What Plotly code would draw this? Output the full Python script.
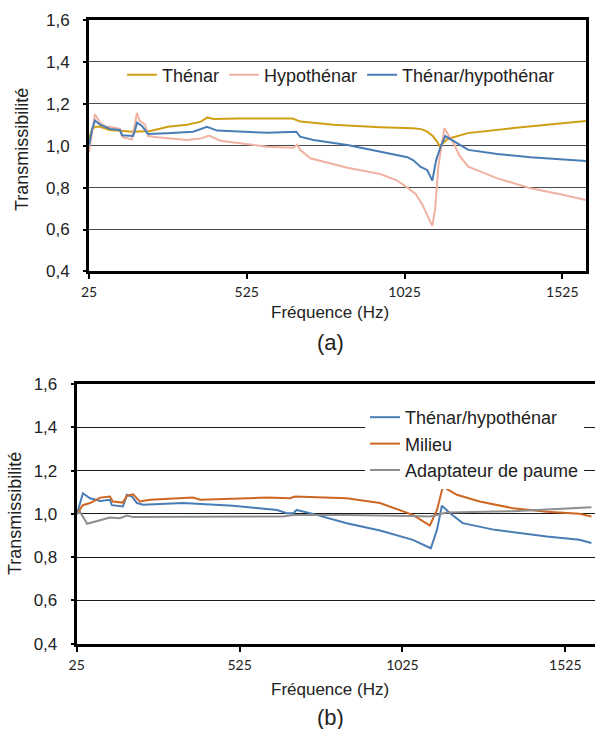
import plotly.graph_objects as go

# ---------------- data (a) ----------------
thenar_f = [25, 35, 45, 60, 90, 130, 165, 220, 275, 335, 380, 400, 420, 500, 600, 670, 695, 800, 948, 1053, 1080, 1097, 1115, 1128, 1136, 1145, 1160, 1180, 1225, 1370, 1470, 1600]
thenar_v = [1.03, 1.08, 1.09, 1.09, 1.075, 1.07, 1.067, 1.07, 1.09, 1.10, 1.115, 1.135, 1.128, 1.13, 1.132, 1.13, 1.115, 1.10, 1.088, 1.083, 1.078, 1.067, 1.045, 1.02, 0.998, 1.01, 1.03, 1.04, 1.06, 1.084, 1.10, 1.118]

hypo_f = [25, 35, 44, 52, 60, 69, 80, 92, 114, 123, 128, 133, 161, 168, 177, 185, 193, 203, 212, 241, 336, 380, 406, 441, 590, 672, 685, 694, 726, 844, 948, 1000, 1034, 1060, 1081, 1100, 1113, 1122, 1132, 1151, 1165, 1180, 1200, 1227, 1319, 1424, 1519, 1600]
hypo_v = [0.97, 1.07, 1.15, 1.13, 1.11, 1.10, 1.09, 1.09, 1.083, 1.08, 1.05, 1.04, 1.03, 1.08, 1.156, 1.12, 1.11, 1.10, 1.046, 1.04, 1.027, 1.035, 1.048, 1.024, 0.995, 0.99, 1.005, 0.98, 0.94, 0.895, 0.865, 0.835, 0.80, 0.77, 0.72, 0.66, 0.617, 0.70, 0.90, 1.083, 1.05, 1.013, 0.95, 0.90, 0.844, 0.797, 0.768, 0.741]

th_hy_f = [25, 35, 44, 60, 92, 123, 130, 165, 172, 177, 193, 212, 272, 355, 399, 431, 590, 672, 682, 694, 736, 844, 948, 1034, 1053, 1075, 1097, 1113, 1125, 1139, 1154, 1193, 1227, 1319, 1424, 1600]
th_hy_v = [1.0, 1.08, 1.12, 1.10, 1.08, 1.075, 1.05, 1.046, 1.08, 1.11, 1.094, 1.056, 1.06, 1.067, 1.09, 1.072, 1.062, 1.067, 1.067, 1.043, 1.027, 1.003, 0.97, 0.945, 0.93, 0.90, 0.883, 0.833, 0.93, 0.995, 1.046, 1.011, 0.98, 0.96, 0.945, 0.927]

# ---------------- data (b) ----------------
b_th_hy_f = [26, 44, 66, 97, 127, 133, 167, 179, 195, 210, 229, 351, 505, 609, 640, 670, 690, 700, 750, 854, 956, 1057, 1112, 1131, 1146, 1171, 1210, 1308, 1468, 1568, 1605]
b_th_hy_v = [1.0, 1.095, 1.072, 1.06, 1.065, 1.04, 1.034, 1.088, 1.08, 1.05, 1.042, 1.05, 1.038, 1.02, 1.018, 1.003, 1.003, 1.018, 1.0, 0.957, 0.923, 0.88, 0.841, 0.926, 1.038, 1.003, 0.957, 0.926, 0.895, 0.88, 0.865]

milieu_f = [26, 44, 66, 87, 97, 127, 136, 167, 179, 198, 219, 250, 382, 404, 609, 680, 695, 854, 956, 1057, 1109, 1131, 1149, 1192, 1262, 1364, 1468, 1568, 1605]
milieu_v = [1.0, 1.04, 1.05, 1.065, 1.075, 1.08, 1.057, 1.052, 1.083, 1.09, 1.057, 1.065, 1.075, 1.065, 1.075, 1.072, 1.08, 1.072, 1.05, 0.995, 0.946, 1.018, 1.126, 1.088, 1.057, 1.026, 1.01, 1.0, 0.988]

adapt_f = [26, 35, 57, 97, 127, 158, 179, 198, 404, 658, 689, 854, 1057, 1109, 1131, 1160, 1364, 1468, 1605]
adapt_v = [1.0, 1.01, 0.954, 0.972, 0.983, 0.98, 0.992, 0.985, 0.985, 0.988, 0.995, 0.995, 0.99, 0.988, 0.995, 1.006, 1.012, 1.02, 1.031]

x_ticks = [25, 525, 1025, 1525]
y_ticks = [0.4, 0.6, 0.8, 1.0, 1.2, 1.4, 1.6]

C_GOLD = "#CFA015"
C_SALMON = "#F0B2A0"
C_BLUE = "#4A7DB6"
C_ORANGE = "#CD6723"
C_GRAY = "#8E8E8E"

W, H = 595, 729

def px(x):
    return x / W

def py(y):
    return 1 - y / H

fig = go.Figure()

fig.add_trace(go.Scatter(x=thenar_f, y=thenar_v, mode="lines", name="Thénar",
                         line=dict(color=C_GOLD, width=2), xaxis="x", yaxis="y", legend="legend"))
fig.add_trace(go.Scatter(x=hypo_f, y=hypo_v, mode="lines", name="Hypothénar",
                         line=dict(color=C_SALMON, width=2), xaxis="x", yaxis="y", legend="legend"))
fig.add_trace(go.Scatter(x=th_hy_f, y=th_hy_v, mode="lines", name="Thénar/hypothénar",
                         line=dict(color=C_BLUE, width=2), xaxis="x", yaxis="y", legend="legend"))

fig.add_trace(go.Scatter(x=b_th_hy_f, y=b_th_hy_v, mode="lines", name="Thénar/hypothénar",
                         line=dict(color=C_BLUE, width=2), xaxis="x2", yaxis="y2", legend="legend2"))
fig.add_trace(go.Scatter(x=milieu_f, y=milieu_v, mode="lines", name="Milieu",
                         line=dict(color=C_ORANGE, width=2), xaxis="x2", yaxis="y2", legend="legend2"))
fig.add_trace(go.Scatter(x=adapt_f, y=adapt_v, mode="lines", name="Adaptateur de paume",
                         line=dict(color=C_GRAY, width=2), xaxis="x2", yaxis="y2", legend="legend2"))

FAM = "Liberation Sans, Arial, sans-serif"
xfont = dict(family="Lato, sans-serif", size=14, color="#222")
yfont = dict(family=FAM, size=17, color="#222")

common_x = dict(tickmode="array", tickvals=x_ticks, ticktext=[str(t) for t in x_ticks],
                showgrid=False, zeroline=False, showline=True, linecolor="black", linewidth=3,
                ticks="outside", ticklen=5, tickwidth=2, tickcolor="black",
                tickfont=xfont, ticklabelstandoff=1, automargin=False)
common_y = dict(tickmode="array", tickvals=y_ticks, tickformat=".1f",
                showgrid=True, zeroline=False, showline=True, linecolor="black", linewidth=3,
                ticks="outside", ticklen=3, tickwidth=2, tickcolor="black",
                tickfont=yfont, ticklabelstandoff=10, automargin=False)

fig.update_layout(
    width=W, height=H,
    margin=dict(l=0, r=0, t=0, b=0, pad=0, autoexpand=False),
    paper_bgcolor="white", plot_bgcolor="white",
    separators=", ",
    font=dict(family=FAM, color="#222"),
    xaxis=dict(common_x, domain=[px(89), px(586)], range=[25, 1600], anchor="y", mirror=True),
    yaxis=dict(common_y, domain=[py(271.4), py(20)], range=[0.4, 1.6], anchor="x", mirror=True,
               gridcolor="#4a4a4a", gridwidth=1.3),
    xaxis2=dict(common_x, domain=[px(76.7), 1.0], range=[25, 1616], anchor="y2", mirror=True),
    yaxis2=dict(common_y, domain=[py(643.7), py(384)], range=[0.4, 1.6], anchor="x2", mirror=False,
                gridcolor="#1a1a1a", gridwidth=1.3),
    legend=dict(orientation="h", x=px(122), y=py(75), xanchor="left", yanchor="middle",
                bgcolor="rgba(255,255,255,0)", font=dict(family=FAM, size=18, color="#222"),
                itemwidth=30, tracegroupgap=0),
    legend2=dict(orientation="v", x=px(365), y=py(399), xanchor="left", yanchor="top",
                 bgcolor="white", font=dict(family=FAM, size=18, color="#222"),
                 itemwidth=30, tracegroupgap=0),
    showlegend=True,
)

ann_font = dict(family=FAM, size=18, color="#222")
fig.add_annotation(text="Fréquence (Hz)", x=px(330), y=py(312), xref="paper", yref="paper",
                   showarrow=False, font=dict(ann_font, size=17), xanchor="center", yanchor="middle")
fig.add_annotation(text="(a)", x=px(330), y=py(342), xref="paper", yref="paper",
                   showarrow=False, font=dict(ann_font, size=22), xanchor="center", yanchor="middle")
fig.add_annotation(text="Transmissibilité", x=px(22), y=py(150), xref="paper", yref="paper",
                   showarrow=False, font=ann_font, textangle=-90, xanchor="center", yanchor="middle")

fig.add_annotation(text="Fréquence (Hz)", x=px(330), y=py(689), xref="paper", yref="paper",
                   showarrow=False, font=dict(ann_font, size=17), xanchor="center", yanchor="middle")
fig.add_annotation(text="(b)", x=px(330), y=py(717), xref="paper", yref="paper",
                   showarrow=False, font=dict(ann_font, size=22), xanchor="center", yanchor="middle")
fig.add_annotation(text="Transmissibilité", x=px(15), y=py(514), xref="paper", yref="paper",
                   showarrow=False, font=ann_font, textangle=-90, xanchor="center", yanchor="middle")

fig.write_html("out.html", config={"displayModeBar": False},
               post_script="document.body.style.margin='0';document.body.style.overflow='hidden';")
